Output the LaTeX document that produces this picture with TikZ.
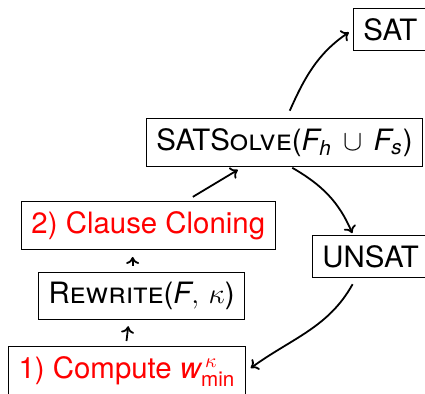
\documentclass[tikz,border=0pt]{standalone}
\usepackage{amsmath}
\usepackage{fontspec}
\setmainfont{TeX Gyre Heros}
\usetikzlibrary{arrows.meta}
% italic sans letters inside formulas
\newcommand\svar[1]{\text{\itshape #1}}
\begin{document}
\begin{tikzpicture}[x=0.5pt,y=-0.5pt,
  box/.style={draw, line width=0.5pt, inner xsep=5pt, inner ysep=4.9pt,
    font=\fontsize{14.7}{18}\selectfont, anchor=north west},
  arr/.style={-{To[length=3.5pt,width=6.5pt]}, line width=0.9pt}]
\useasboundingbox (0,0) rectangle (425,394);

\node[box] (sat) at (353,8) {SAT};
\node[box] (solve) at (146,118) {SAT\textsc{Solve}($\svar{F}_{\svar{h}}\,\cup\,\svar{F}_{\svar{s}}$)};
\node[box] (unsat) at (312,235) {UNSAT};
\node[box, text=red] (clone) at (21,201) {2) Clause Cloning};
\node[box] (rewrite) at (38,272) {\textsc{Rewrite}($\svar{F},\,\kappa$)};
\node[box, text=red] (compute) at (8,346) {1) Compute $\svar{w}^{\kern2pt\kappa}_{\text{min}}$};

% pipeline, bottom to top
\draw[arr, shorten <=2.5pt, shorten >=3pt]
  ([xshift=-0.5pt]compute.north) -- ([xshift=1pt]compute.north |- rewrite.south);
\draw[arr, shorten <=3pt, shorten >=3.5pt]
  ([xshift=-4.5pt]rewrite.north) -- ([xshift=-4.5pt]rewrite.north |- clone.south);
\draw[arr, shorten <=4pt, shorten >=3pt]
  ([xshift=82.5pt]clone.north west) -- ([xshift=48.5pt]solve.south west);

% solver outcomes
\draw[arr, shorten <=4pt, shorten >=2.5pt]
  ([xshift=1pt]solve.north) to[out=66,in=214] (sat.west);
\draw[arr, shorten <=1pt, shorten >=1pt]
  ([xshift=3pt]solve.south) to[out=-30,in=113] ([xshift=20.5pt]unsat.north west);
\draw[arr, shorten <=3.5pt, shorten >=3pt]
  ([xshift=22pt]unsat.south west) to[out=241,in=36] (compute.east);
\end{tikzpicture}
\end{document}
